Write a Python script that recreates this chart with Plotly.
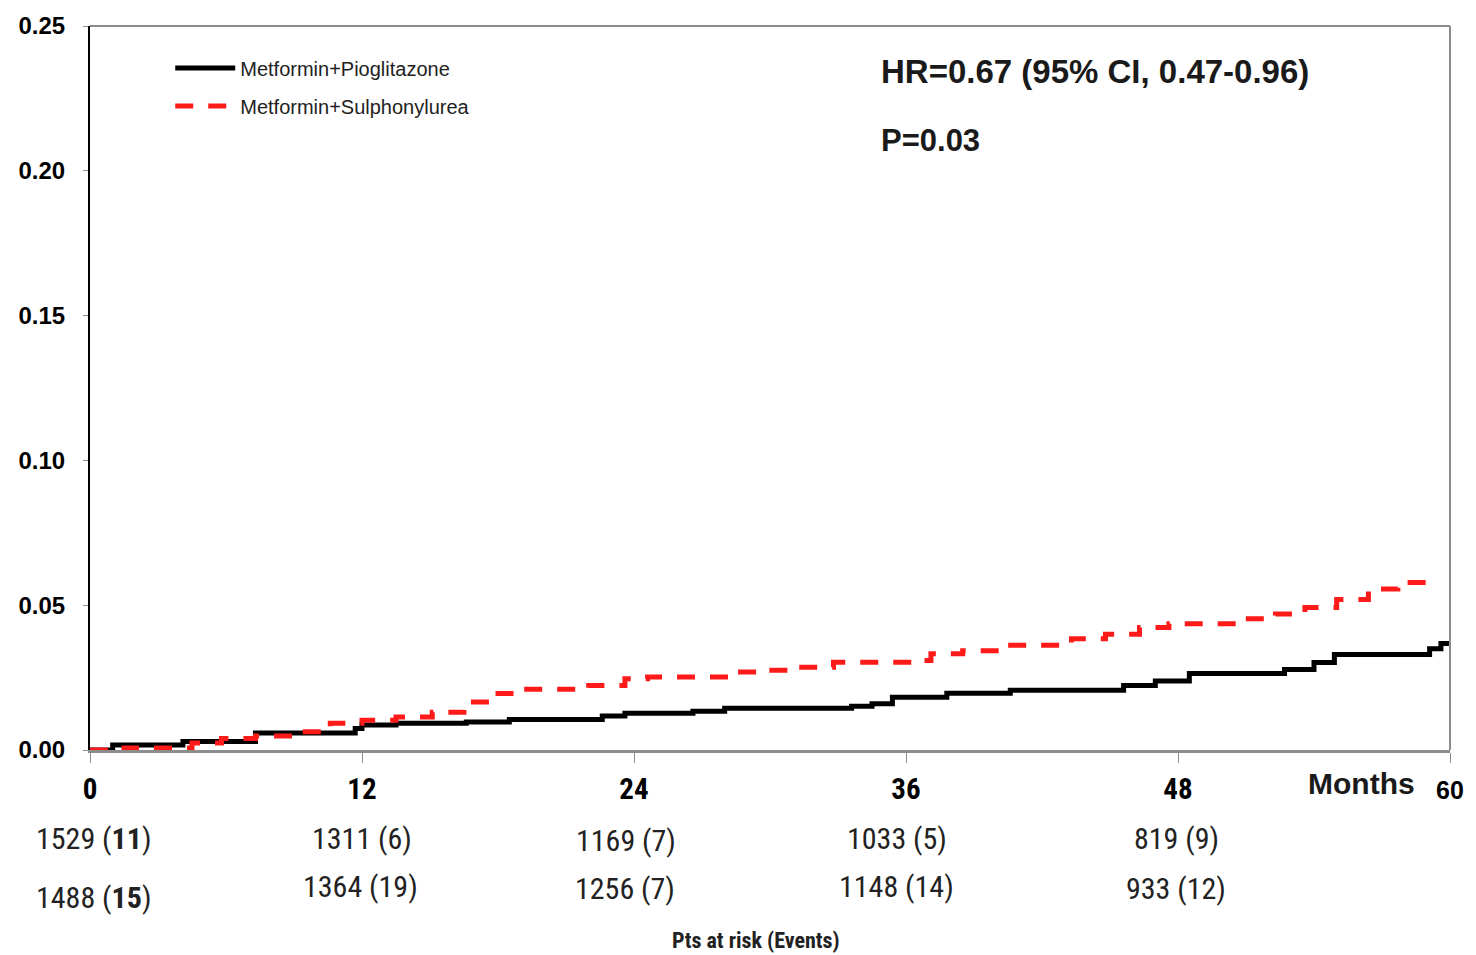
import plotly.graph_objects as go

# ---------------- data ----------------
months_pio = [0, 1.0, 4.1, 7.3, 11.7, 12.0, 13.5, 16.6, 18.5, 22.6, 23.6, 26.6, 28.0,
              33.6, 34.5, 35.4, 37.8, 40.6, 45.6, 47.0, 48.5, 52.7, 54.0, 54.9,
              59.1, 59.6, 60.0]
risk_pio = [0, 0.0017, 0.0029, 0.0059, 0.0074, 0.0086, 0.0092, 0.0097, 0.0105, 0.0117,
            0.0127, 0.0134, 0.0144, 0.0151, 0.0160, 0.0182, 0.0196, 0.0206, 0.0223,
            0.0238, 0.0264, 0.0278, 0.0302, 0.0330, 0.0350, 0.0368, 0.0368]

months_su = [0, 1.5, 4.5, 5.8, 7.3, 8.8, 10.6, 12.0, 13.5, 15.1, 16.5, 18.0, 19.0,
             22.0, 23.6, 24.6, 28.3, 29.7, 31.4, 32.8, 36.5, 37.1, 38.5, 40.2,
             43.3, 44.8, 46.3, 47.6, 50.7, 52.3, 53.6, 55.0, 56.4, 57.7, 59.3]
risk_su = [0, 0.0007, 0.0024, 0.0040, 0.0048, 0.0063, 0.0092, 0.0103, 0.0114, 0.0130,
           0.0166, 0.0195, 0.0210, 0.0223, 0.0246, 0.0252, 0.0269, 0.0275, 0.0286,
           0.0303, 0.0309, 0.0332, 0.0343, 0.0362, 0.0384, 0.0400, 0.0423, 0.0436,
           0.0453, 0.0470, 0.0492, 0.0520, 0.0556, 0.0578, 0.0578]

x_tick_vals = [0, 12, 24, 36, 48, 60]
x_tick_text = ["0", "12", "24", "36", "48",
               "<span style='font-family:Liberation Sans, Arial;font-size:25px'>60</span>"]
y_tick_vals = [0.00, 0.05, 0.10, 0.15, 0.20, 0.25]
y_tick_text = ["0.00", "0.05", "0.10", "0.15", "0.20", "0.25"]

risk_months = [0, 12, 24, 36, 48]
at_risk_pio = ["1529 (<b>11</b>)", "1311 (6)", "1169 (7)", "1033 (5)", "819 (9)"]
at_risk_su = ["1488 (<b>15</b>)", "1364 (19)", "1256 (7)", "1148 (14)", "933 (12)"]

name_pio = "Metformin+Pioglitazone"
name_su = "Metformin+Sulphonylurea"
hr_text = "HR=0.67 (95% CI, 0.47-0.96)"
p_text = "P=0.03"

# ---------------- figure ----------------
ARIAL = "Liberation Sans, Arial, sans-serif"
NARROW = "Liberation Sans Narrow, Roboto Condensed, Roboto, sans-serif"

fig = go.Figure()
fig.add_trace(go.Scatter(x=months_pio, y=risk_pio, mode="lines", name=name_pio,
                         line=dict(color="black", width=5, shape="hv"),
                         legendgroup="a"))
fig.add_trace(go.Scatter(x=months_su, y=risk_su, mode="lines", name=name_su,
                         line=dict(color="#ff1a1a", width=5, shape="hv", dash="18px,15px"),
                         legendgroup="b"))

fig.update_layout(
    width=1476, height=955,
    margin=dict(l=90, r=23, t=22, b=205),
    paper_bgcolor="white", plot_bgcolor="white",
    showlegend=True,
    legend=dict(x=0.059, y=0.969, xanchor="left", yanchor="top",
                font=dict(family=ARIAL, size=20, color="#222"),
                bgcolor="rgba(0,0,0,0)", traceorder="grouped",
                tracegroupgap=9, itemwidth=60),
)

fig.update_xaxes(range=[0, 60], tickvals=x_tick_vals, ticktext=x_tick_text,
                 showgrid=False, zeroline=False,
                 showline=True, linecolor="#8c8c8c", linewidth=3,
                 ticks="outside", ticklen=10, tickcolor="#8c8c8c", tickwidth=1,
                 ticklabelstandoff=1,
                 tickfont=dict(family=NARROW, size=29, color="black", weight="bold"))
fig.update_yaxes(range=[0, 0.25], tickvals=y_tick_vals, ticktext=y_tick_text,
                 showgrid=False, zeroline=False,
                 showline=True, linecolor="black", linewidth=2,
                 ticks="outside", ticklen=5, tickcolor="#8c8c8c",
                 ticklabelstandoff=13,
                 tickfont=dict(family=ARIAL, size=24, color="black", weight="bold"))

# frame: top and right borders (gray)
fig.add_shape(type="line", xref="paper", yref="paper", x0=0, x1=1, y0=1, y1=1,
              line=dict(color="#8c8c8c", width=2))
fig.add_shape(type="line", xref="paper", yref="paper", x0=1, x1=1, y0=0, y1=1,
              line=dict(color="#8c8c8c", width=2))

# HR and P annotations
fig.add_annotation(x=34.8, y=0.2342, xref="x", yref="y", text=hr_text, showarrow=False,
                   xanchor="left", yanchor="middle",
                   font=dict(family=ARIAL, size=33, color="#1a1a1a", weight="bold"))
fig.add_annotation(x=34.8, y=0.2105, xref="x", yref="y", text=p_text, showarrow=False,
                   xanchor="left", yanchor="middle",
                   font=dict(family=ARIAL, size=31, color="#1a1a1a", weight="bold"))

# "Months" label
fig.add_annotation(x=56.1, y=0, xref="x", yref="paper", text="<b>Months</b>", showarrow=False,
                   xanchor="center", yanchor="middle", yshift=-33,
                   font=dict(family=ARIAL, size=30, color="#1a1a1a"))

# numbers at risk
shift1 = [3, 0, -8, -9, -2]
shift2 = [3, -2, -9, -10, -2]
yrow1 = [-88, -88, -90, -88, -88]
yrow2 = [-147, -136, -138, -136, -138]
for i, m in enumerate(risk_months):
    fig.add_annotation(x=m, y=0, xref="x", yref="paper", text=at_risk_pio[i],
                       showarrow=False, xanchor="center", yanchor="middle",
                       xshift=shift1[i], yshift=yrow1[i],
                       font=dict(family=NARROW, size=30, color="#222"))
    fig.add_annotation(x=m, y=0, xref="x", yref="paper", text=at_risk_su[i],
                       showarrow=False, xanchor="center", yanchor="middle",
                       xshift=shift2[i], yshift=yrow2[i],
                       font=dict(family=NARROW, size=30, color="#222"))

fig.add_annotation(x=29.4, y=0, xref="x", yref="paper", text="<b>Pts at risk (Events)</b>",
                   showarrow=False, xanchor="center", yanchor="middle", yshift=-190,
                   font=dict(family=NARROW, size=22, color="#222"))

fig.write_html("out.html")
